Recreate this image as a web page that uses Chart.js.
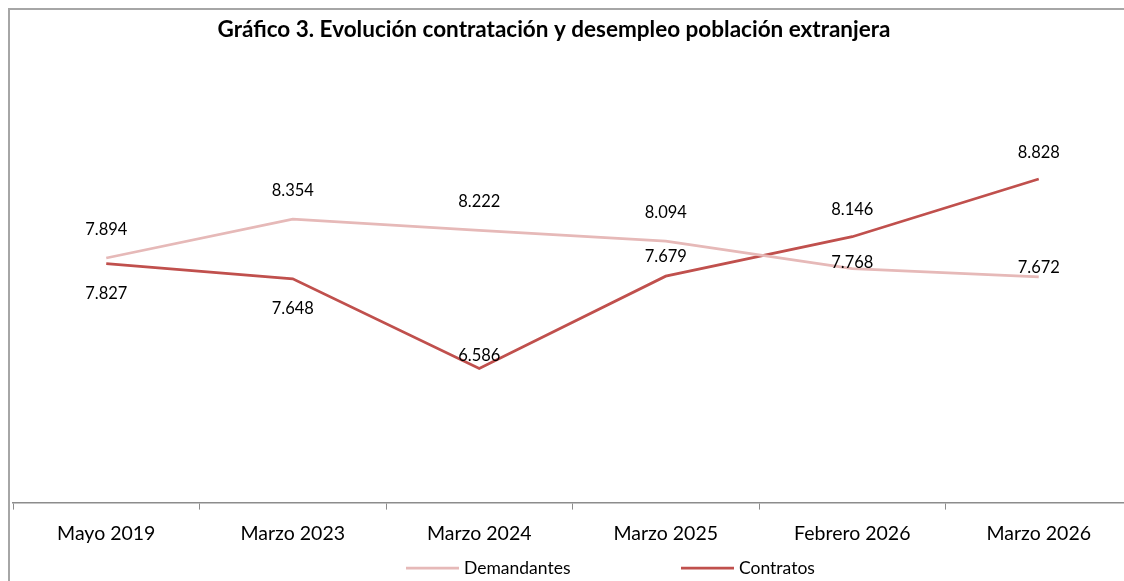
<!DOCTYPE html>
<html>
<head>
<meta charset="utf-8">
<script src="https://cdn.jsdelivr.net/npm/chart.js@4.4.1/dist/chart.umd.min.js"></script>
<style>
  html, body { margin: 0; padding: 0; background: #fff; overflow: hidden; }
  #frame {
    position: absolute; left: 8px; top: 8px; width: 1200px; height: 700px;
    border-left: 2px solid #a6a6a6; border-top: 2px solid #a6a6a6;
  }
  #chart { position: absolute; left: 0; top: 0; }
</style>
</head>
<body>
<div id="frame"></div>
<canvas id="chart" width="1150" height="581"></canvas>
<script>
const periods = ['Mayo 2019', 'Marzo 2023', 'Marzo 2024', 'Marzo 2025', 'Febrero 2026', 'Marzo 2026'];
const demandantes = [7894, 8354, 8222, 8094, 7768, 7672];
const contratos = [7827, 7648, 6586, 7679, 8146, 8828];

const chartTitle = 'Gráfico 3. Evolución contratación y desempleo población extranjera';
const FONT = 'Lato, "Open Sans", sans-serif';

// vertical shift of each value label from its point (px)
const labelShift = [
    [-28, -28, -29, -28, -6, -9],
    [30, 30, -13, -19, -27, -26]
];

function fmt(v) {
    return String(v).replace(/\B(?=(\d{3})+(?!\d))/g, '.');
}

const titlePlugin = {
    id: 'titlePlugin',
    afterDraw(chart) {
        const ctx = chart.ctx;
        ctx.save();
        ctx.font = 'bold 22.5px ' + FONT;
        ctx.fillStyle = '#000';
        ctx.textAlign = 'center';
        ctx.textBaseline = 'middle';
        ctx.fillText(chartTitle, 554, 30);
        ctx.restore();
    }
};

const valueLabels = {
    id: 'valueLabels',
    afterDatasetsDraw(chart) {
        const ctx = chart.ctx;
        ctx.save();
        ctx.font = '16.5px ' + FONT;
        ctx.fillStyle = '#000';
        ctx.textAlign = 'center';
        ctx.textBaseline = 'middle';
        chart.data.datasets.forEach((ds, i) => {
            const meta = chart.getDatasetMeta(i);
            meta.data.forEach((pt, j) => {
                ctx.fillText(fmt(ds.data[j]), pt.x, pt.y + labelShift[i][j]);
            });
        });
        ctx.restore();
    }
};

const bottomLegend = {
    id: 'bottomLegend',
    afterDraw(chart) {
        const ctx = chart.ctx;
        const starts = [406, 681];
        const y = 568;
        ctx.save();
        ctx.font = '17.5px ' + FONT;
        ctx.textBaseline = 'middle';
        chart.data.datasets.forEach((ds, i) => {
            const x = starts[i];
            ctx.strokeStyle = ds.borderColor;
            ctx.lineWidth = 2.75;
            ctx.beginPath();
            ctx.moveTo(x, y);
            ctx.lineTo(x + 53, y);
            ctx.stroke();
            ctx.fillStyle = '#000';
            ctx.fillText(ds.label, x + 58, y);
        });
        ctx.restore();
    }
};

new Chart(document.getElementById('chart'), {
    type: 'line',
    data: {
        labels: periods,
        datasets: [
            {
                label: 'Demandantes',
                data: demandantes,
                borderColor: '#e6b9b8',
                borderWidth: 2.75,
                pointRadius: 0,
                tension: 0
            },
            {
                label: 'Contratos',
                data: contratos,
                borderColor: '#c0504d',
                borderWidth: 2.75,
                pointRadius: 0,
                tension: 0
            }
        ]
    },
    options: {
        responsive: false,
        animation: false,
        devicePixelRatio: 1,
        layout: { padding: { left: 13, right: 18, top: 80, bottom: 24 } },
        plugins: {
            legend: { display: false },
            title: { display: false },
            tooltip: { enabled: false }
        },
        scales: {
            x: {
                offset: true,
                grid: {
                    offset: true,
                    drawOnChartArea: false,
                    drawTicks: true,
                    tickLength: 7,
                    color: '#8c8c8c'
                },
                border: { color: '#8c8c8c', width: 1.5 },
                ticks: {
                    color: '#000',
                    padding: 12,
                    maxRotation: 0,
                    font: { family: FONT, size: 19.5 }
                }
            },
            y: {
                display: false,
                min: 5000,
                max: 10000
            }
        }
    },
    plugins: [titlePlugin, valueLabels, bottomLegend]
});
</script>
</body>
</html>
